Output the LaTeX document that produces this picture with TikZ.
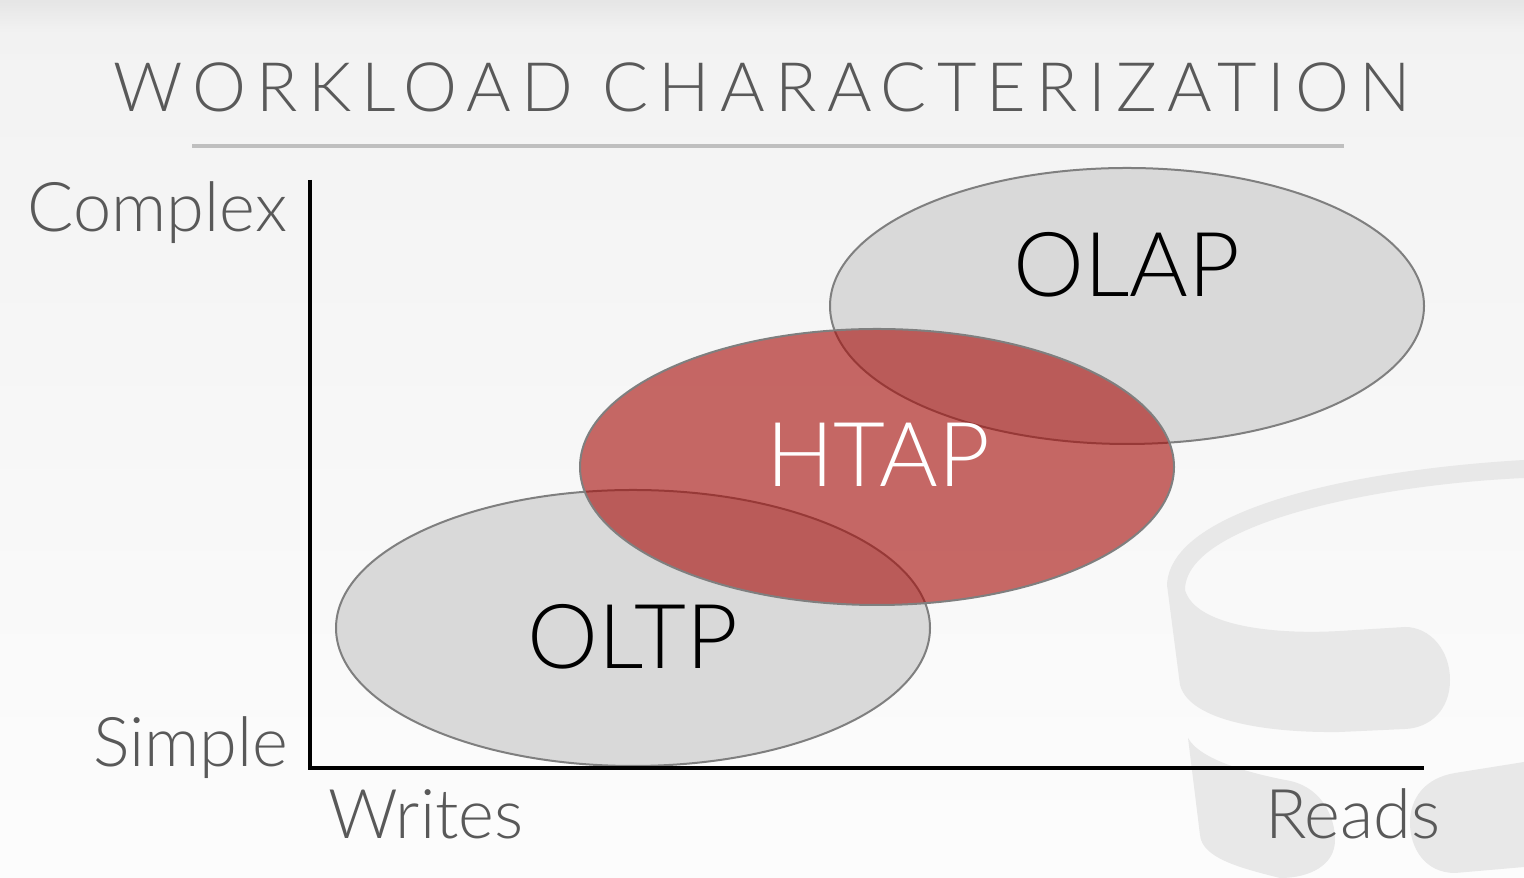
\documentclass[tikz,border=0pt]{standalone}
\usepackage{fontspec}
\usepackage{tikz}
\usetikzlibrary{shapes.geometric}
\setmainfont{Lato Light}
\newfontfamily\titlefont[LetterSpace=15]{Lato Light}
\definecolor{slidetext}{HTML}{595959}
\definecolor{slidegray}{HTML}{D9D9D9}
\definecolor{slidered}{HTML}{A70F0B}
\definecolor{slideedge}{HTML}{7F7F7F}
\definecolor{slidemark}{HTML}{E8E8E8}
\definecolor{sliderule}{HTML}{BFBFBF}

\begin{document}
\begin{tikzpicture}[
		blob/.style={ellipse, draw=slideedge, line width=0.02cm, fill=slidegray, minimum width=5.94cm, minimum height=2.76cm, inner sep=0pt},
		tag/.style={anchor=base, font=\fontsize{25.5}{25.5}\selectfont, text=black, inner sep=0pt},
		axislabel/.style={font=\fontsize{19.5}{19.5}\selectfont, text=slidetext, inner sep=0pt},
		axis/.style={draw=black, line width=0.04cm}
	]
  \useasboundingbox (0cm, 0cm) rectangle (15.24cm, 8.78cm);
  % backdrop
  \shade [top color=white!90!black, bottom color=white!95!black] (0cm, 8.45cm) rectangle (15.24cm, 8.78cm);
  \shade [top color=white!95!black, bottom color=white!99!black] (0cm, 0cm) rectangle (15.24cm, 8.45cm);
  % database mark
  \fill [slidemark] (11.67, 2.93) .. controls (11.70, 3.68) and (13.50, 4.08) .. (15.24, 4.18)
    -- (15.24, 4.00) .. controls (13.70, 3.93) and (11.85, 3.53) .. (11.85, 2.88)
    .. controls (11.95, 2.53) and (12.70, 2.43) .. (13.40, 2.47) -- (14.05, 2.51)
    .. controls (14.30, 2.51) and (14.50, 2.28) .. (14.50, 1.98)
    .. controls (14.50, 1.68) and (14.30, 1.50) .. (14.05, 1.49) -- (13.40, 1.46)
    .. controls (12.70, 1.45) and (11.90, 1.56) .. (11.80, 1.93) -- cycle;
  \fill [slidemark] (11.88, 1.40) .. controls (12.00, 1.18) and (12.50, 1.05) .. (12.85, 0.98)
    .. controls (13.20, 0.93) and (13.35, 0.63) .. (13.35, 0.38)
    .. controls (13.35, 0.13) and (13.10, 0.00) .. (12.80, 0.00)
    .. controls (12.40, 0.10) and (12.02, 0.20) .. (12.00, 0.43) -- cycle;
  \fill [slidemark] (15.24, 1.16) -- (14.55, 1.05) .. controls (14.25, 1.00) and (14.10, 0.80) .. (14.10, 0.55)
    .. controls (14.10, 0.30) and (14.25, 0.05) .. (14.55, 0.05) -- (15.24, 0.11) -- cycle;
  % title
  \node (title) [anchor=base, font=\titlefont\fontsize{19.4}{19.4}\selectfont, text=slidetext, inner sep=0pt] at (7.62cm, 7.66cm) {WORKLOAD CHARACTERIZATION};
  \coordinate (rule_l) at (1.92cm, 7.32cm);
  \coordinate (rule_r) at (13.44cm, 7.32cm);
  \draw [sliderule, line width=0.04cm] (rule_l) -- (rule_r);
  % ellipses
  \node (olap) [blob] at (11.27cm, 5.72cm) {};
  \node (oltp) [blob] at (6.33cm, 2.50cm) {};
  \node (htap) [blob, fill=slidered, fill opacity=0.62] at (8.77cm, 4.11cm) {};
  \node (olap_label) [tag] at (11.27cm, 5.81cm) {OLAP};
  \node (oltp_label) [tag] at (6.33cm, 2.09cm) {OLTP};
  \node (htap_label) [tag, text=white] at (8.78cm, 3.91cm) {HTAP};
  % axes
  \coordinate (origin) at (3.10cm, 1.10cm);
  \coordinate (y_end) at (3.10cm, 6.98cm);
  \coordinate (x_end) at (14.24cm, 1.10cm);
  \draw [axis] (y_end) -- (origin) -- (x_end);
  \node (complex) [axislabel, anchor=base east] at (2.88cm, 6.46cm) {Complex};
  \node (simple) [axislabel, anchor=base east] at (2.89cm, 1.11cm) {Simple};
  \node (writes) [axislabel, anchor=base west] at (3.28cm, 0.39cm) {Writes};
  \node (reads) [axislabel, anchor=base east] at (14.41cm, 0.39cm) {Reads};
\end{tikzpicture}
\end{document}
